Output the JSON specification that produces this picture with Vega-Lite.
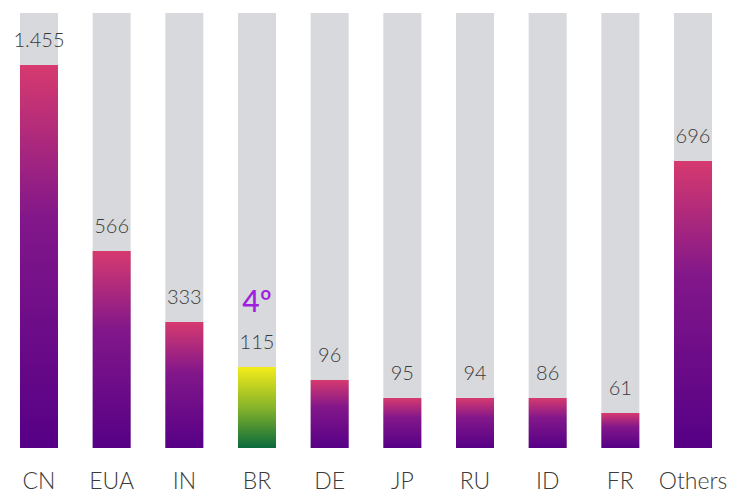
{
  "$schema": "https://vega.github.io/schema/vega-lite/v6.json",
  "width": 732,
  "height": 435,
  "autosize": {"type": "none"},
  "padding": {"left": 0, "top": 13, "right": 8, "bottom": 45},
  "background": "white",
  "config": {"view": {"stroke": null}},
  "data": {
    "values": [
      {"country": "CN", "label": "1.455", "height": 383},
      {"country": "EUA", "label": "566", "height": 197},
      {"country": "IN", "label": "333", "height": 126},
      {"country": "BR", "label": "115", "height": 81},
      {"country": "DE", "label": "96", "height": 68},
      {"country": "JP", "label": "95", "height": 50},
      {"country": "RU", "label": "94", "height": 50},
      {"country": "ID", "label": "86", "height": 50},
      {"country": "FR", "label": "61", "height": 35},
      {"country": "Others", "label": "696", "height": 287}
    ]
  },
  "encoding": {
    "x": {
      "field": "country",
      "type": "nominal",
      "sort": null,
      "scale": {"paddingInner": 0.477, "paddingOuter": 0.275},
      "axis": {
        "title": null,
        "domain": false,
        "ticks": false,
        "labelAngle": 0,
        "labelFont": "Lato",
        "labelFontWeight": 300,
        "labelFontSize": 23,
        "labelColor": "#3a3a3a",
        "labelPadding": 22
      }
    }
  },
  "layer": [
    {
      "mark": {"type": "bar", "color": "#d8d9dc"},
      "encoding": {
        "y": {"datum": 435, "type": "quantitative", "scale": {"domain": [0, 435], "nice": false, "zero": true}, "axis": null},
        "y2": {"datum": 0}
      }
    },
    {
      "transform": [{"filter": "datum.country !== 'BR'"}],
      "mark": {
        "type": "bar",
        "color": {
          "gradient": "linear",
          "x1": 0, "y1": 0, "x2": 0, "y2": 1,
          "stops": [
            {"offset": 0, "color": "#d63a6f"},
            {"offset": 0.4, "color": "#82178a"},
            {"offset": 1, "color": "#560086"}
          ]
        }
      },
      "encoding": {
        "y": {"field": "height", "type": "quantitative", "axis": null}
      }
    },
    {
      "transform": [{"filter": "datum.country === 'BR'"}],
      "mark": {
        "type": "bar",
        "color": {
          "gradient": "linear",
          "x1": 0, "y1": 0, "x2": 0, "y2": 1,
          "stops": [
            {"offset": 0, "color": "#f4ec1a"},
            {"offset": 0.5, "color": "#86b42a"},
            {"offset": 1, "color": "#0a6a3c"}
          ]
        }
      },
      "encoding": {
        "y": {"field": "height", "type": "quantitative", "axis": null}
      }
    },
    {
      "mark": {"type": "rule", "color": "#7d7d7d", "strokeWidth": 2},
      "encoding": {"y": {"datum": 0, "type": "quantitative"}}
    },
    {
      "mark": {
        "type": "text",
        "baseline": "alphabetic",
        "dy": -18,
        "font": "Lato",
        "fontWeight": 300,
        "fontSize": 20,
        "color": "#3a3a3a"
      },
      "encoding": {
        "y": {"field": "height", "type": "quantitative"},
        "text": {"field": "label"}
      }
    },
    {
      "transform": [{"filter": "datum.country === 'BR'"}],
      "mark": {
        "type": "text",
        "baseline": "alphabetic",
        "dy": -55,
        "font": "Lato",
        "fontWeight": 500,
        "fontSize": 30,
        "color": "#a01fde"
      },
      "encoding": {
        "y": {"field": "height", "type": "quantitative"},
        "text": {"value": "4º"}
      }
    }
  ]
}
